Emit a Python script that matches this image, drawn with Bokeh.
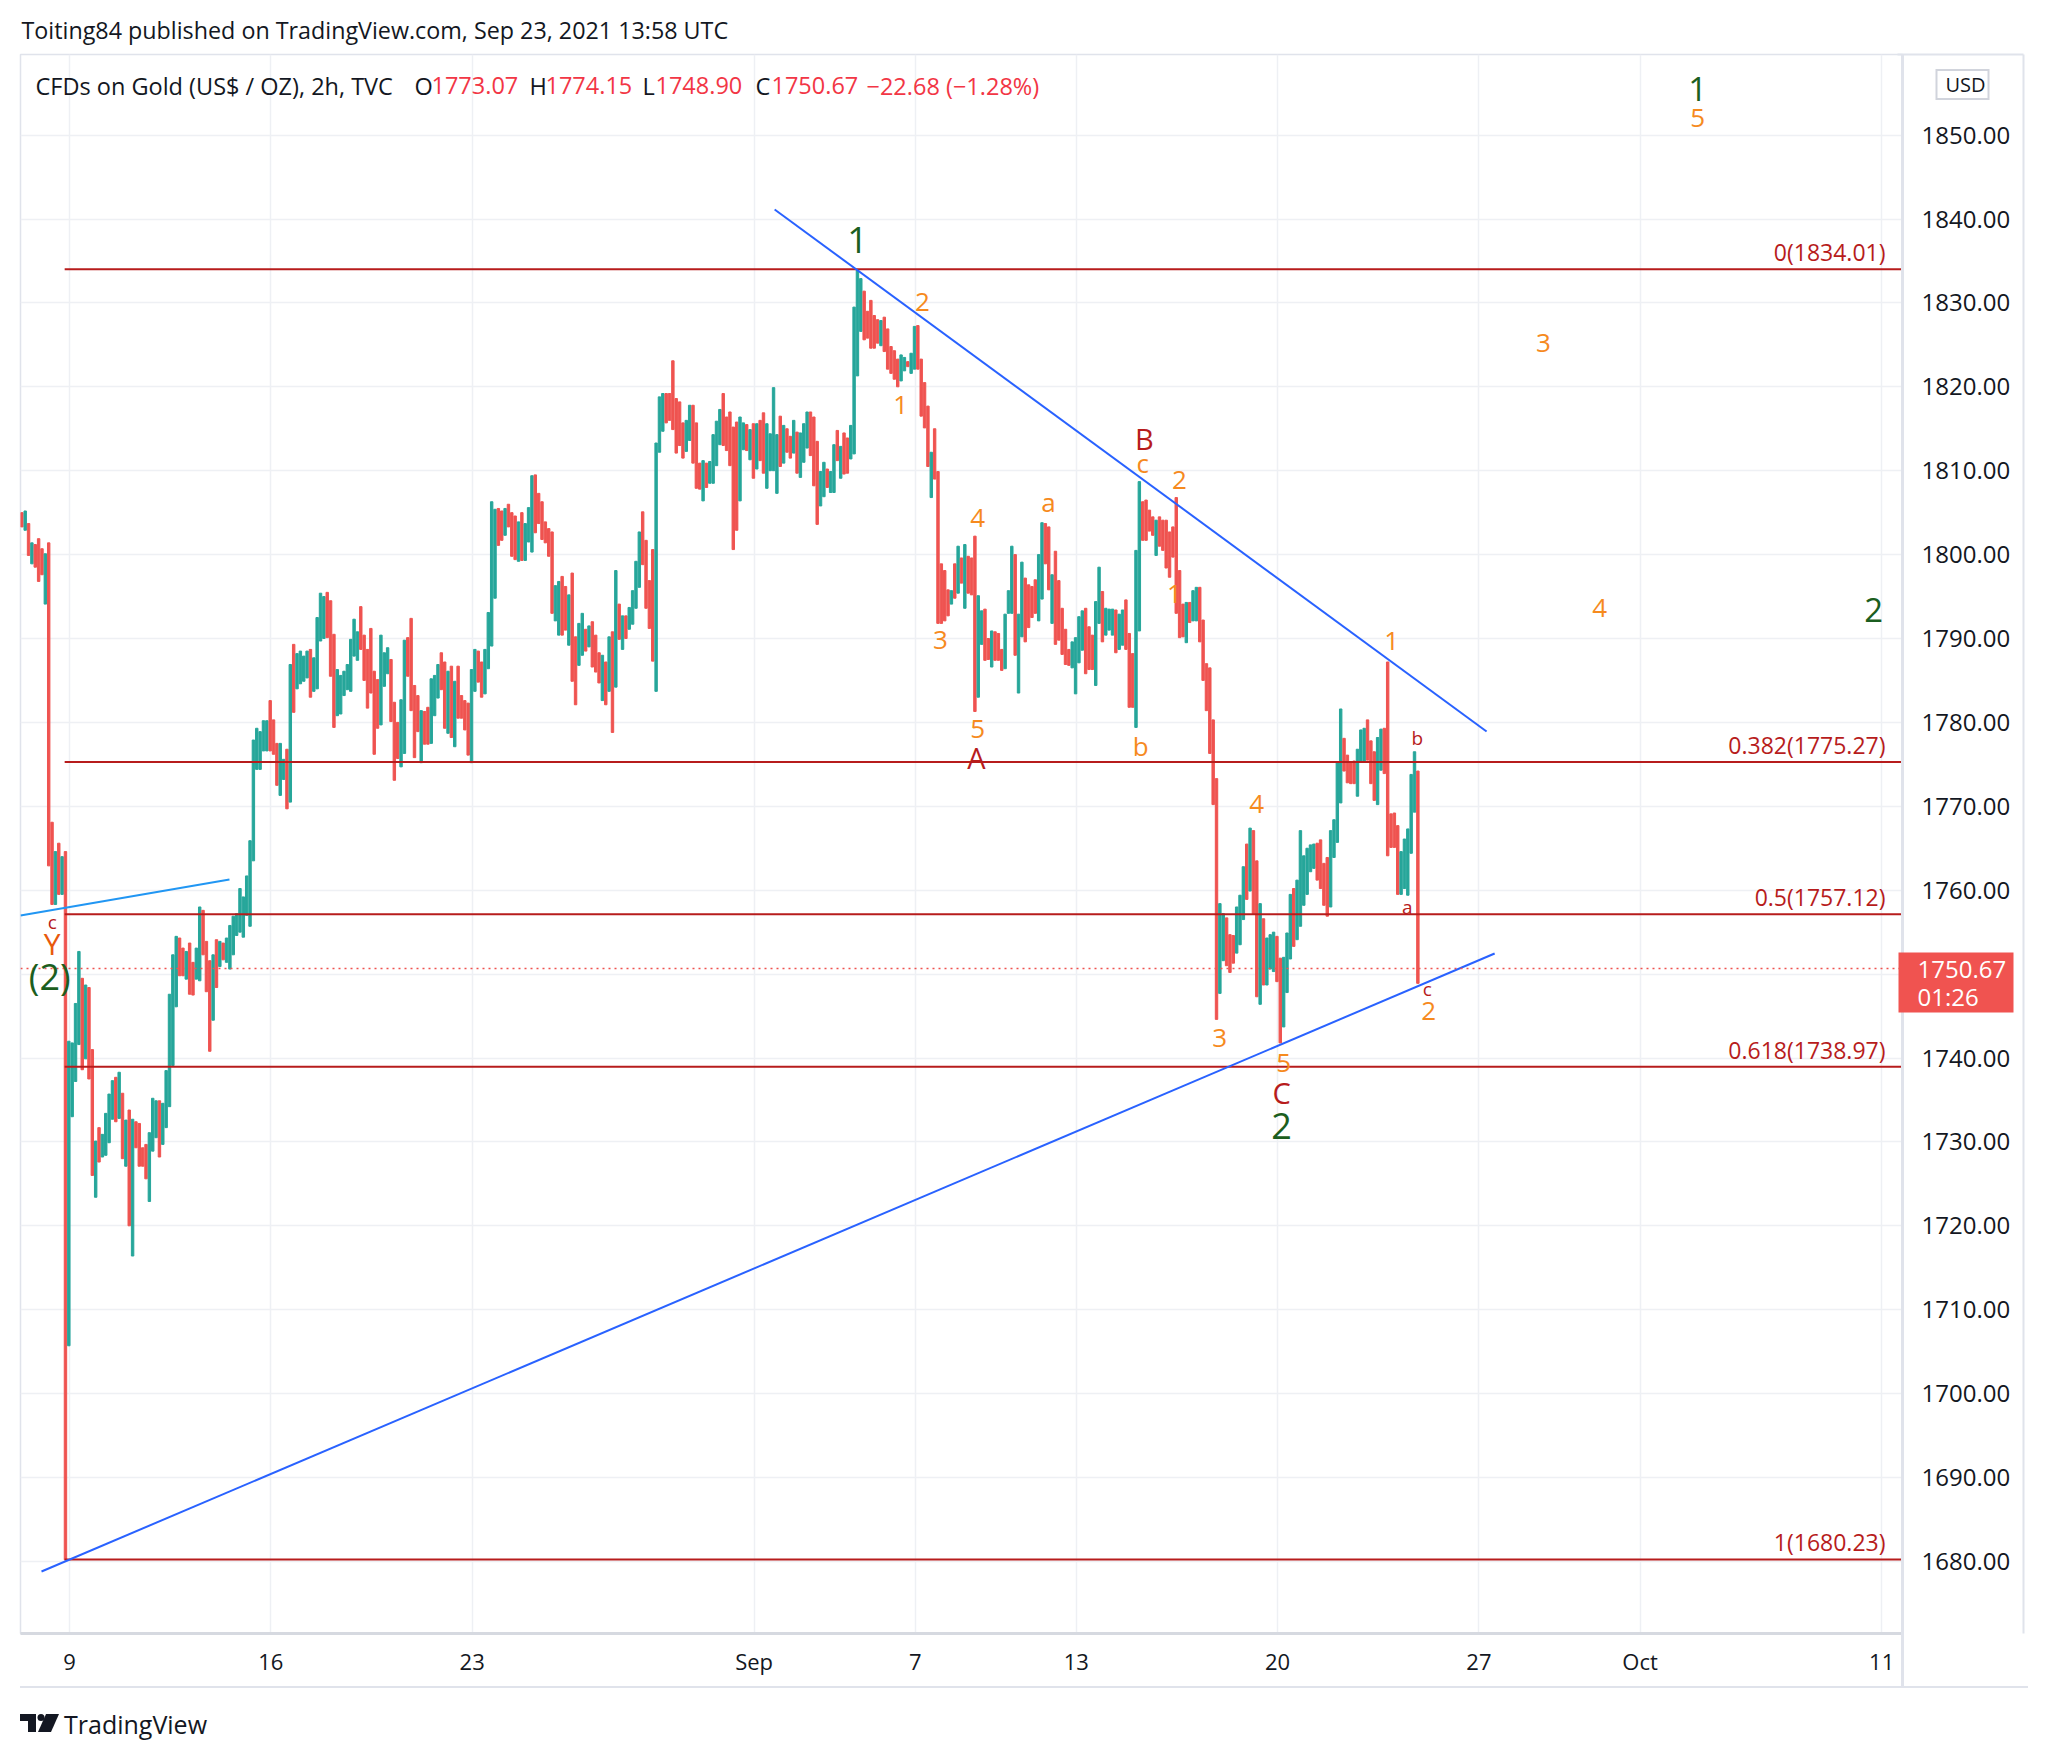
from bokeh.plotting import figure
from bokeh.layouts import column
from bokeh.models import (ColumnDataSource, FixedTicker, SingleIntervalTicker,
                          NumeralTickFormatter, Range1d, LinearAxis, Div)
from bokeh.core.properties import value
from bokeh.embed import file_html
from bokeh.resources import INLINE

FONT = "Open Sans"
TEXT_DARK = "#131722"
UP, DOWN = "#26a69a", "#ef5350"

HEADER = "Toiting84 published on TradingView.com, Sep 23, 2021 13:58 UTC"
SYMBOL = "CFDs on Gold (US$ / OZ), 2h, TVC"
OHLC_KEYS = ["O", "H", "L", "C"]
OHLC_VALS = ["1773.07", "1774.15", "1748.90", "1750.67"]
CHANGE = "\u221222.68 (\u22121.28%)"
LAST_PRICE = 1750.67
COUNTDOWN = "01:26"
CURRENCY = "USD"
FOOTER = "TradingView"

TICK_DAYS = [0, 5, 10, 17, 21, 25, 30, 35, 39, 45]
TICK_LABELS = ["9", "16", "23", "Sep", "7", "13", "20", "27", "Oct", "11"]
PRICE_TICKS = [1680, 1690, 1700, 1710, 1720, 1730, 1740, 1760, 1770, 1780,
               1790, 1800, 1810, 1820, 1830, 1840, 1850]   # 1750 is hidden by the price tag

FIB_RATIOS = ["0", "0.382", "0.5", "0.618", "1"]
FIB_PRICES = [1834.01, 1775.27, 1757.12, 1738.97, 1680.23]
FIB_START = -0.12

# 2h bars (x = trading-day index), high / low and direction
HIGHS = [
    1805.0, 1805.2, 1803.7, 1801.4, 1801.2, 1801.9, 1800.7, 1800.1, 1801.4, 1768.1,
    1764.6, 1765.6, 1764.0, 1764.6, 1742.0, 1741.8, 1746.5, 1752.7, 1749.5, 1748.7,
    1748.4, 1741.0, 1730.1, 1731.7, 1730.9, 1733.4, 1735.7, 1737.3, 1737.7, 1738.3,
    1735.8, 1732.6, 1733.8, 1732.7, 1732.4, 1732.2, 1729.3, 1729.7, 1731.1, 1735.2,
    1734.9, 1734.9, 1734.6, 1738.5, 1747.6, 1752.3, 1754.5, 1754.3, 1753.1, 1752.7,
    1753.7, 1751.4, 1753.1, 1758.0, 1757.6, 1753.9, 1751.6, 1752.3, 1754.1, 1753.9,
    1753.7, 1754.3, 1755.8, 1756.9, 1757.2, 1760.2, 1759.2, 1761.7, 1765.9, 1777.9,
    1779.3, 1778.9, 1780.2, 1780.2, 1782.6, 1780.3, 1777.5, 1777.5, 1775.6, 1776.8,
    1786.9, 1789.3, 1788.2, 1788.5, 1787.9, 1788.5, 1788.7, 1787.7, 1792.5, 1795.4,
    1795.0, 1795.5, 1794.5, 1790.5, 1786.3, 1785.6, 1786.1, 1786.9, 1789.9, 1792.3,
    1790.8, 1793.8, 1790.4, 1788.7, 1791.2, 1786.1, 1785.1, 1790.4, 1788.3, 1788.9,
    1787.5, 1782.4, 1780.0, 1782.7, 1789.8, 1790.1, 1792.4, 1784.4, 1783.2, 1781.4,
    1781.3, 1781.8, 1785.2, 1785.6, 1786.9, 1788.3, 1787.2, 1786.1, 1786.7, 1784.9,
    1786.7, 1783.2, 1782.6, 1782.3, 1786.3, 1788.7, 1788.5, 1787.2, 1788.7, 1793.1,
    1806.3, 1805.4, 1805.5, 1805.2, 1805.5, 1806.0, 1805.0, 1804.6, 1803.9, 1805.0,
    1803.7, 1805.6, 1809.4, 1809.5, 1807.3, 1806.3, 1803.9, 1803.1, 1802.7, 1796.3,
    1796.8, 1797.4, 1796.2, 1795.2, 1797.8, 1790.2, 1791.8, 1793.0, 1791.1, 1791.5,
    1792.0, 1790.4, 1788.3, 1788.0, 1787.2, 1790.2, 1790.8, 1798.1, 1794.1, 1792.7,
    1792.7, 1793.7, 1795.7, 1799.2, 1802.7, 1805.1, 1801.7, 1796.9, 1800.6, 1813.3,
    1818.8, 1819.2, 1819.2, 1819.2, 1823.1, 1818.6, 1818.2, 1815.7, 1816.0, 1817.8,
    1817.8, 1815.7, 1810.9, 1811.2, 1810.9, 1811.1, 1814.3, 1815.9, 1817.3, 1819.2,
    1816.4, 1817.0, 1815.2, 1815.8, 1816.4, 1815.7, 1815.5, 1814.9, 1815.6, 1815.6,
    1816.0, 1816.9, 1815.6, 1814.4, 1819.9, 1814.3, 1816.5, 1815.4, 1815.0, 1814.1,
    1816.0, 1814.6, 1814.5, 1815.6, 1817.0, 1817.0, 1816.4, 1813.5, 1809.9, 1811.0,
    1810.2, 1809.9, 1813.1, 1814.8, 1812.9, 1814.5, 1813.9, 1815.4, 1829.5, 1833.9,
    1832.9, 1831.4, 1829.0, 1830.3, 1828.5, 1828.0, 1827.9, 1828.3, 1826.9, 1824.8,
    1824.3, 1823.3, 1823.8, 1823.5, 1823.0, 1824.0, 1827.2, 1827.3, 1823.3, 1820.5,
    1817.7, 1812.2, 1815.0, 1809.9, 1798.9, 1798.1, 1795.8, 1795.7, 1798.9, 1801.0,
    1799.6, 1801.2, 1799.8, 1799.6, 1802.2, 1795.1, 1793.3, 1793.5, 1790.0, 1790.9,
    1790.8, 1790.6, 1788.7, 1792.9, 1795.7, 1801.0, 1800.0, 1792.9, 1799.1, 1797.2,
    1796.4, 1796.2, 1797.0, 1800.0, 1803.8, 1803.7, 1803.3, 1797.6, 1800.4, 1796.9,
    1793.6, 1791.1, 1788.7, 1789.6, 1790.1, 1792.6, 1793.3, 1793.6, 1791.4, 1790.4,
    1794.4, 1798.5, 1795.6, 1793.6, 1793.5, 1793.5, 1793.4, 1792.9, 1793.4, 1794.6,
    1790.6, 1788.2, 1800.5, 1808.7, 1806.3, 1806.5, 1805.3, 1804.5, 1804.1, 1804.5,
    1804.1, 1804.1, 1802.7, 1803.3, 1806.8, 1798.1, 1794.1, 1794.3, 1794.3, 1795.7,
    1796.1, 1796.1, 1792.2, 1787.0, 1786.5, 1780.3, 1773.3, 1758.4, 1757.2, 1756.7,
    1754.7, 1754.6, 1758.0, 1759.4, 1762.8, 1765.5, 1767.4, 1767.1, 1763.5, 1758.4,
    1756.6, 1754.3, 1754.7, 1755.0, 1754.5, 1751.9, 1752.0, 1754.9, 1759.5, 1760.2,
    1761.2, 1767.1, 1764.1, 1765.0, 1765.4, 1765.5, 1765.6, 1766.0, 1763.2, 1763.9,
    1767.1, 1768.4, 1775.3, 1781.6, 1778.1, 1776.1, 1775.3, 1775.4, 1776.8, 1779.1,
    1779.3, 1780.3, 1777.8, 1776.5, 1778.2, 1779.2, 1779.3, 1787.2, 1769.1, 1769.2,
    1767.7, 1764.6, 1766.1, 1767.3, 1773.8, 1776.5, 1774.2,
]
LOWS = [
    1803.3, 1802.9, 1799.9, 1798.9, 1798.5, 1796.8, 1797.6, 1794.1, 1762.9, 1758.3,
    1758.3, 1759.5, 1759.5, 1680.2, 1705.7, 1733.0, 1737.2, 1741.6, 1738.6, 1739.9,
    1737.5, 1726.0, 1723.4, 1727.6, 1728.2, 1728.4, 1729.9, 1732.7, 1732.4, 1732.8,
    1728.0, 1727.1, 1720.0, 1716.4, 1729.3, 1727.1, 1727.1, 1725.6, 1722.9, 1728.9,
    1730.5, 1728.2, 1729.7, 1731.7, 1734.2, 1739.1, 1746.1, 1749.8, 1749.8, 1749.4,
    1747.6, 1747.5, 1749.4, 1749.2, 1752.3, 1747.9, 1740.8, 1744.5, 1748.4, 1750.9,
    1751.7, 1751.4, 1750.6, 1752.3, 1754.6, 1755.0, 1754.4, 1757.0, 1755.7, 1763.5,
    1774.4, 1774.4, 1776.6, 1776.6, 1776.6, 1776.2, 1772.5, 1771.3, 1773.2, 1769.7,
    1770.5, 1781.2, 1784.0, 1784.6, 1784.9, 1785.3, 1783.0, 1783.7, 1784.0, 1789.7,
    1790.0, 1790.1, 1785.5, 1779.4, 1780.8, 1781.0, 1783.2, 1783.9, 1783.7, 1787.9,
    1787.4, 1788.7, 1785.0, 1781.7, 1783.5, 1776.2, 1779.3, 1779.7, 1784.3, 1785.8,
    1780.1, 1773.1, 1775.7, 1774.7, 1776.3, 1785.5, 1781.4, 1775.8, 1778.9, 1775.2,
    1777.4, 1777.4, 1777.5, 1780.8, 1782.9, 1783.9, 1779.3, 1778.7, 1778.2, 1777.1,
    1780.5, 1780.5, 1779.1, 1776.1, 1775.2, 1783.7, 1784.8, 1783.0, 1783.4, 1786.4,
    1789.1, 1794.8, 1801.1, 1801.7, 1802.3, 1803.3, 1799.8, 1799.4, 1799.2, 1799.3,
    1799.3, 1801.5, 1800.3, 1802.6, 1803.7, 1801.8, 1801.4, 1799.8, 1793.0, 1792.1,
    1790.4, 1790.4, 1791.0, 1789.2, 1784.9, 1782.1, 1786.8, 1788.0, 1788.5, 1789.0,
    1786.6, 1786.0, 1784.7, 1782.6, 1782.1, 1783.7, 1778.8, 1784.2, 1789.9, 1788.7,
    1790.0, 1791.1, 1791.7, 1793.6, 1796.1, 1798.8, 1793.6, 1791.2, 1787.3, 1783.7,
    1812.2, 1814.7, 1815.7, 1816.0, 1814.9, 1812.1, 1813.0, 1811.5, 1812.3, 1813.6,
    1810.9, 1807.9, 1807.8, 1806.4, 1808.0, 1808.5, 1808.5, 1810.6, 1813.1, 1813.0,
    1812.4, 1810.6, 1800.6, 1802.9, 1806.4, 1812.5, 1812.4, 1811.3, 1809.1, 1810.2,
    1811.2, 1809.7, 1807.9, 1810.0, 1810.0, 1807.3, 1810.5, 1810.9, 1812.2, 1811.5,
    1812.1, 1809.7, 1809.2, 1811.0, 1812.7, 1811.8, 1808.2, 1803.6, 1805.8, 1806.9,
    1808.0, 1807.4, 1807.4, 1811.2, 1809.1, 1809.6, 1809.7, 1811.4, 1812.0, 1821.3,
    1826.6, 1825.6, 1825.8, 1824.6, 1824.6, 1825.2, 1824.9, 1824.2, 1822.1, 1821.6,
    1820.9, 1820.0, 1820.7, 1821.9, 1822.4, 1821.6, 1822.1, 1822.1, 1816.5, 1815.1,
    1810.5, 1806.8, 1809.0, 1791.8, 1791.8, 1792.1, 1792.7, 1794.1, 1794.8, 1795.4,
    1796.6, 1793.6, 1795.4, 1795.2, 1781.3, 1783.0, 1789.3, 1787.4, 1787.5, 1786.6,
    1787.4, 1787.4, 1786.2, 1786.4, 1793.0, 1793.0, 1788.0, 1783.5, 1790.2, 1789.6,
    1791.3, 1792.5, 1793.0, 1792.1, 1794.7, 1798.9, 1795.8, 1791.8, 1789.3, 1789.8,
    1788.1, 1786.9, 1786.8, 1786.5, 1783.4, 1787.1, 1788.6, 1785.8, 1786.3, 1786.3,
    1784.4, 1791.8, 1789.6, 1790.4, 1791.0, 1790.4, 1788.3, 1788.7, 1789.2, 1788.7,
    1781.8, 1781.8, 1779.4, 1790.9, 1801.7, 1801.7, 1802.8, 1802.3, 1799.9, 1801.0,
    1800.5, 1798.4, 1797.3, 1799.7, 1793.0, 1790.1, 1790.2, 1789.5, 1791.9, 1792.1,
    1792.1, 1789.6, 1785.0, 1781.4, 1776.3, 1770.2, 1744.6, 1747.7, 1751.6, 1751.0,
    1750.2, 1751.3, 1752.5, 1753.5, 1756.5, 1758.9, 1759.9, 1757.2, 1747.3, 1746.4,
    1748.7, 1748.7, 1750.6, 1750.3, 1749.1, 1741.8, 1743.7, 1747.8, 1751.8, 1753.3,
    1754.1, 1755.7, 1758.2, 1759.5, 1762.2, 1762.6, 1761.2, 1760.2, 1758.2, 1756.9,
    1758.0, 1763.9, 1765.7, 1770.4, 1774.2, 1772.8, 1772.7, 1772.7, 1771.2, 1775.3,
    1775.3, 1775.5, 1772.7, 1770.7, 1770.2, 1774.3, 1773.9, 1764.1, 1765.1, 1765.1,
    1759.5, 1759.5, 1760.2, 1759.4, 1764.4, 1769.3, 1748.9,
]
DIRS = "".join([
    "dududddudd", "ududuuuudu", "dduduuuudu", "dududddduu", "uduuuuuddu",
    "dduudddudu", "duuuuuuuuu", "uuuuddduud", "uduuuuduuu", "uddduuuuuu",
    "udddddduuu", "ddduuddddu", "dduuuddudu", "dddduudduu", "uuddudddud",
    "uuuddddddu", "uddudduudu", "dddudududu", "duuuuddddu", "uudddddduu",
    "ddduduuuud", "dddduududu", "dduuuududd", "uduuuddduu", "duududduuu",
    "uddddduddd", "dduuduuddd", "dudddddudu", "duddduuddu", "ddduuuduud",
    "ddduuddudd", "ddduuuuddd", "uuduuuduud", "dduuddddud", "dddddddudu",
    "udddddduud", "dduuududdu", "duuudduuud", "uuuuuudddd", "uuuudddduu",
    "uddduudddd", "duuuuud",
])

# trendlines (trading day, price)
TREND_X0 = [17.51, -0.695, -1.217]
TREND_Y0 = [1841.13, 1678.8, 1756.99]
TREND_X1 = [35.19, 35.39, 3.973]
TREND_Y1 = [1778.92, 1752.45, 1761.28]
TREND_COLOR = ["#2962ff", "#2962ff", "#2196f3"]

# Elliott wave labels (trading day, price)
WAVE_TEXT = ["1", "2", "1", "3", "4", "5", "A", "a", "B", "c", "2", "1", "b", "4", "3",
             "5", "C", "2", "1", "b", "a", "c", "2", "3", "4", "1", "5", "2", "c", "Y", "(2)"]
WAVE_X = [19.57, 21.18, 20.64, 21.63, 22.55, 22.55, 22.52, 24.31, 26.69, 26.65, 27.56,
          27.44, 26.60, 29.48, 28.56, 30.15, 30.10, 30.10, 32.83, 33.47, 33.22, 33.72,
          33.75, 36.60, 38.00, 40.43, 40.43, 44.80, -0.43, -0.43, -0.49]
WAVE_Y = [1837.44, 1830.05, 1817.89, 1789.88, 1804.42, 1779.27, 1775.81, 1806.21,
          1813.84, 1810.86, 1808.84, 1795.25, 1777.13, 1770.22, 1742.33, 1739.35,
          1735.89, 1731.84, 1789.76, 1778.20, 1758.05, 1748.28, 1745.66, 1825.27,
          1793.69, 1855.55, 1851.98, 1793.45, 1756.26, 1753.64, 1749.71]
WAVE_KIND = ["G", "O", "O", "O", "O", "O", "R", "O", "R", "O", "O", "O", "O", "O", "O",
             "O", "R", "G", "O", "r", "r", "r", "O", "O", "O", "g", "O", "g", "r", "Y", "G"]
KIND_STYLE = {
    "G": ("#1b5e20", "36px"), "g": ("#1b5e20", "33px"), "O": ("#f68a1e", "26px"),
    "R": ("#b71c1c", "29px"), "r": ("#b71c1c", "19px"), "Y": ("#e8590c", "30px"),
}

# ---- layout helpers: reference-page pixel -> data coordinates ----
PX0, PX_PER_DAY = 69.0, 40.27
PY0, PY_PER_USD = 134.6, 8.39


def dx(px):
    return (px - PX0) / PX_PER_DAY


def dy(py):
    return 1850 - (py - PY0) / PY_PER_USD


n = len(HIGHS)
assert n == len(LOWS) == len(DIRS), (n, len(LOWS), len(DIRS))
bars = ColumnDataSource(dict(
    x=[(i - 14.2) / 12 for i in range(n)],
    top=HIGHS, bottom=LOWS,
    color=[UP if d == "u" else DOWN for d in DIRS],
))

W = 2040
MAIN_H = 1686
FOOT_H = 62
FRAME_L, FRAME_R, FRAME_T, FRAME_B = 20, 1902, 54, 1633
BOX_R = 2028

p = figure(width=W, height=MAIN_H, output_backend="svg", toolbar_location=None,
           x_range=Range1d(dx(FRAME_L), dx(FRAME_R)),
           y_range=Range1d(dy(FRAME_B), dy(FRAME_T)),
           y_axis_location="right", title=HEADER,
           min_border_left=FRAME_L, min_border_right=W - FRAME_R,
           min_border_top=FRAME_T, min_border_bottom=MAIN_H - FRAME_B)
p.background_fill_color = "white"
p.border_fill_color = "white"
p.outline_line_color = "#e0e3eb"
p.outline_line_width = 1.5

p.title.text_font = FONT
p.title.text_font_size = "23.3px"
p.title.text_font_style = "normal"
p.title.text_color = TEXT_DARK
p.title.offset = 1
p.title.standoff = 17

# time axis
xt = FixedTicker(ticks=TICK_DAYS)
p.xaxis.ticker = xt
p.xaxis.major_label_overrides = {d: lab for d, lab in zip(TICK_DAYS, TICK_LABELS)}
p.xaxis.major_tick_line_color = None
p.xaxis.minor_tick_line_color = None
p.xaxis.major_tick_out = 0
p.xaxis.axis_line_color = "#d6d9e0"
p.xaxis.axis_line_width = 3
p.xaxis.major_label_standoff = 12
p.xaxis.major_label_text_font = FONT
p.xaxis.major_label_text_font_size = "22px"
p.xaxis.major_label_text_color = TEXT_DARK

# price axis
price_axis = p.right[0]
price_axis.ticker = FixedTicker(ticks=PRICE_TICKS)
price_axis.formatter = NumeralTickFormatter(format="0.00")
price_axis.major_tick_line_color = None
price_axis.minor_tick_line_color = None
price_axis.major_tick_out = 0
price_axis.major_tick_in = 0
price_axis.axis_line_color = "#e0e3eb"
price_axis.axis_line_width = 3
price_axis.major_label_standoff = 19
price_axis.major_label_text_font = FONT
price_axis.major_label_text_font_size = "24px"
price_axis.major_label_text_color = TEXT_DARK

# last-price tag drawn as a second price axis (thick tick marks = red box)
PRICE_AXIS_W = 115
COUNT_LEVEL = 1747.3
tag_line = FRAME_R + PRICE_AXIS_W
tag_axis = LinearAxis(
    ticker=FixedTicker(ticks=[LAST_PRICE, COUNT_LEVEL]),
    major_label_overrides={LAST_PRICE: f"{LAST_PRICE:.2f}", COUNT_LEVEL: COUNTDOWN},
    major_tick_in=PRICE_AXIS_W, major_tick_out=0,
    major_tick_line_color="#f05350", major_tick_line_width=32, major_tick_line_cap="butt",
    minor_tick_line_color=None, minor_tick_out=0, minor_tick_in=0,
    axis_line_color=None,
    major_label_standoff=1921 - tag_line,
    major_label_text_font=FONT, major_label_text_font_size="24px",
    major_label_text_color="white",
    axis_label="\u00a0", axis_label_standoff=BOX_R - tag_line - 2,
    axis_label_text_font_size="2px",
)
p.add_layout(tag_axis, "right")

# right border of the price-scale pane (+ its top edge as a long tick)
TOP_LEVEL = dy(FRAME_T) - 0.05
border_axis = LinearAxis(
    ticker=FixedTicker(ticks=[TOP_LEVEL]),
    major_label_overrides={TOP_LEVEL: ""},
    major_tick_in=BOX_R - FRAME_R, major_tick_out=0,
    major_tick_line_color="#e0e3eb", major_tick_line_width=2,
    minor_tick_line_color=None, minor_tick_out=0, minor_tick_in=0,
    axis_line_color="#e0e3eb", axis_line_width=2,
    major_label_standoff=0,
)
p.add_layout(border_axis, "right")

# currency button: grey tick (border) + white tick (face) carrying the "USD" label
USD_LEVEL = 1856.0
BTN_L, BTN_R = 1940, 1994
usd_border = LinearAxis(
    ticker=FixedTicker(ticks=[USD_LEVEL]), major_label_overrides={USD_LEVEL: ""},
    major_tick_in=BOX_R - BTN_L, major_tick_out=BTN_R - BOX_R,
    minor_tick_out=BTN_R - BOX_R, minor_tick_in=0, minor_tick_line_color=None,
    major_tick_line_color="#d1d4dc", major_tick_line_width=31, major_tick_line_cap="butt",
    axis_line_color=None, major_label_standoff=BOX_R - BTN_R,
)
p.add_layout(usd_border, "right")
usd_face = LinearAxis(
    ticker=FixedTicker(ticks=[USD_LEVEL]), major_label_overrides={USD_LEVEL: CURRENCY},
    major_tick_in=BOX_R - (BTN_L + 2), major_tick_out=(BTN_R - 2) - BOX_R,
    minor_tick_out=(BTN_R - 2) - BOX_R, minor_tick_in=0, minor_tick_line_color=None,
    major_tick_line_color="white", major_tick_line_width=27, major_tick_line_cap="butt",
    axis_line_color=None, major_label_standoff=(BTN_L + 10) - BOX_R,
    major_label_text_font=FONT, major_label_text_font_size="20px",
    major_label_text_color=TEXT_DARK,
)
p.add_layout(usd_face, "right")

yt = SingleIntervalTicker(interval=10, num_minor_ticks=0)
p.xgrid.ticker = xt
p.ygrid.ticker = yt
for g in (p.xgrid, p.ygrid):
    g.grid_line_color = "#eef0f4"
    g.grid_line_width = 1.5

# candles
p.vbar(x="x", top="top", bottom="bottom", width=0.72 / 12, color="color", source=bars)

# fibonacci retracement
p.segment(x0=[FIB_START] * len(FIB_PRICES), y0=FIB_PRICES, x1=[60] * len(FIB_PRICES),
          y1=FIB_PRICES, line_color="#b71c1c", line_width=2)
p.text(x=[dx(1885)] * len(FIB_PRICES), y=FIB_PRICES,
       text=[f"{r}({v:.2f})" for r, v in zip(FIB_RATIOS, FIB_PRICES)],
       text_align="right", text_baseline="bottom", y_offset=-1,
       text_font=value(FONT), text_font_size="23px", text_color="#b71c1c")

# trendlines
p.segment(x0=TREND_X0, y0=TREND_Y0, x1=TREND_X1, y1=TREND_Y1,
          line_color=TREND_COLOR, line_width=2)

# last price line
p.segment(x0=[dx(FRAME_L)], y0=[LAST_PRICE], x1=[60], y1=[LAST_PRICE],
          line_color="#ef5350", line_width=1.5, line_dash="2 4")

# wave labels
p.text(x=WAVE_X, y=WAVE_Y, text=WAVE_TEXT,
       text_color=[KIND_STYLE[k][0] for k in WAVE_KIND],
       text_font_size=[KIND_STYLE[k][1] for k in WAVE_KIND],
       text_font=value(FONT), text_align="center", text_baseline="middle")

# legend row
leg_px = [35, 414, 431, 529, 545, 642, 655, 755, 771, 866]
leg_txt = [SYMBOL]
leg_col = [TEXT_DARK]
for k, v in zip(OHLC_KEYS, OHLC_VALS):
    leg_txt += [k, v]
    leg_col += [TEXT_DARK, "#f23645"]
leg_txt.append(CHANGE)
leg_col.append("#f23645")
p.text(x=[dx(v) for v in leg_px], y=[dy(85)] * len(leg_px), text=leg_txt,
       text_color=leg_col, text_font=value(FONT), text_font_size="23.5px",
       text_align="left", text_baseline="middle")

# ---- footer strip: bottom border of the chart box + TradingView wordmark ----
logo_svg = (
    '<svg width="40" height="19" viewBox="0 0 40 19" '
    'style="position:absolute;left:20px;top:28px">'
    f'<path d="M0 0H16V18H8V7H0Z" fill="{TEXT_DARK}"/>'
    f'<circle cx="21" cy="3.5" r="3.5" fill="{TEXT_DARK}"/>'
    f'<path d="M26 0H39L31 18H18Z" fill="{TEXT_DARK}"/>'
    '</svg>'
)
footer_html = (
    f'<div style="position:relative;width:{W}px;height:{FOOT_H}px;margin:0;padding:0;">'
    '<div style="position:absolute;left:20px;top:0px;width:2008px;height:0px;'
    'border-top:2px solid #e0e3eb;"></div>'
    '<div style="position:absolute;left:1901px;top:-54px;width:0px;height:54px;'
    'border-left:3px solid #e0e3eb;"></div>'
    + logo_svg +
    f'<div style="position:absolute;left:64px;top:22px;line-height:32px;'
    f"font-family:'{FONT}';font-size:25px;color:{TEXT_DARK};white-space:nowrap;\">"
    f'{FOOTER}</div></div>'
)
footer = Div(text=footer_html, width=W, height=FOOT_H, margin=(0, 0, 0, 0))

open("out.html", "w").write(file_html(column(p, footer), INLINE))
